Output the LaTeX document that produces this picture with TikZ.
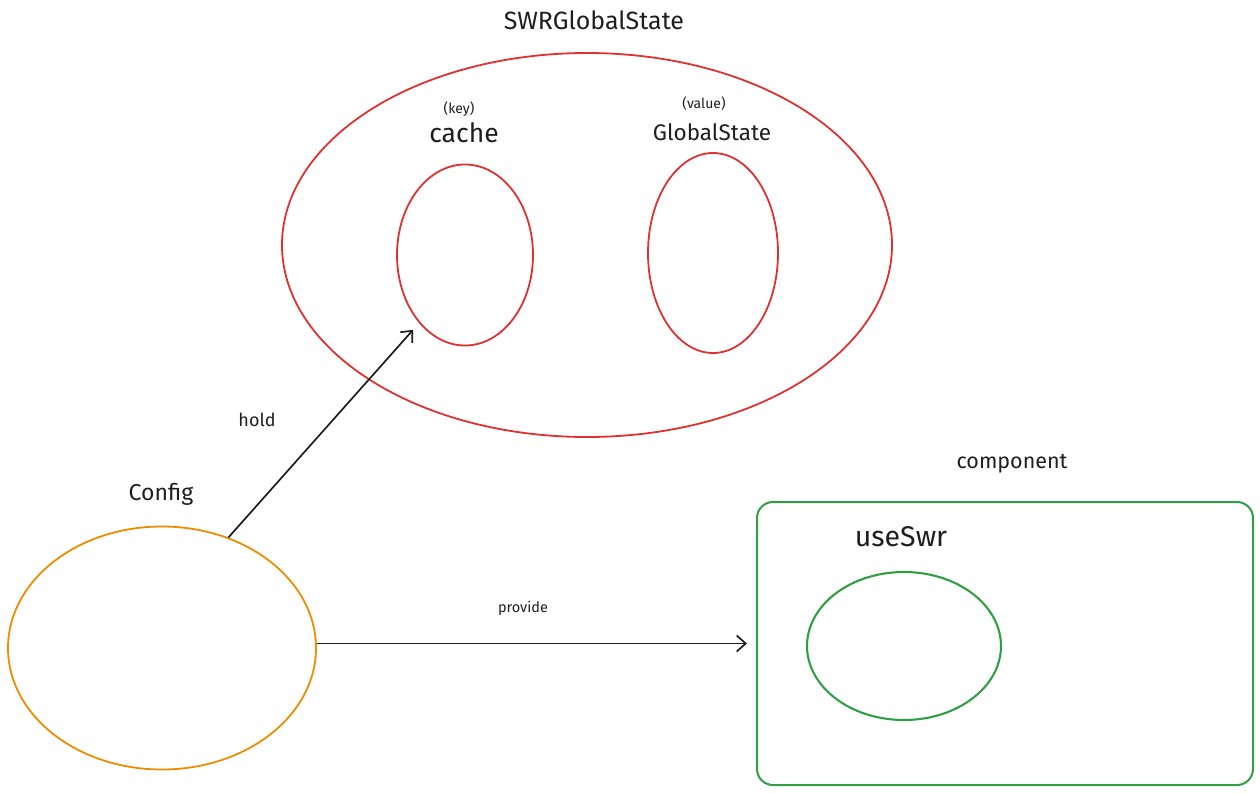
\documentclass[tikz,border=0pt]{standalone}
\usepackage{fontspec}
\setmainfont{Fira Sans}
\usetikzlibrary{shapes.geometric,arrows.meta}
\definecolor{exred}{HTML}{E03131}
\definecolor{exorange}{HTML}{F08C00}
\definecolor{exgreen}{HTML}{2F9E44}
\definecolor{extext}{HTML}{1E1E1E}
\tikzset{
  oval/.style={ellipse, draw, line width=1.8pt, inner sep=0pt},
  lbl/.style={text=extext, inner sep=0pt, anchor=center},
  arr/.style={draw=extext, line width=1.7pt, -{Straight Barb[length=9pt,width=16pt,line width=1.7pt]}},
}
\begin{document}
\begin{tikzpicture}[x=1pt,y=-1pt]
\useasboundingbox (0,0) rectangle (1260,793);
% big red ellipse
\node[oval, draw=exred, minimum width=610pt, minimum height=384pt] (swr) at (587,245) {};
\node[oval, draw=exred, minimum width=136pt, minimum height=181pt] (cache) at (465,255) {};
\node[oval, draw=exred, minimum width=130pt, minimum height=200pt] (gstate) at (713,253) {};
% config
\node[oval, draw=exorange, minimum width=308pt, minimum height=243pt] (config) at (162,648) {};
% component
\node[draw=exgreen, line width=2pt, rounded corners=16pt, minimum width=496pt, minimum height=283pt, inner sep=0pt] (comp) at (1005,643.5) {};
\node[oval, draw=exgreen, line width=2.1pt, minimum width=194pt, minimum height=148pt] (useswr) at (904,646) {};
% labels
\node[lbl, font=\fontsize{25}{29}\selectfont] (tswr) at (594,20) {SWRGlobalState};
\node[lbl, font=\fontsize{14}{16}\selectfont] (tkey) at (459,109) {(key)};
\node[lbl, font=\fontsize{26.5}{30}\selectfont] (tcache) at (464,133) {cache};
\node[lbl, font=\fontsize{22.5}{26}\selectfont] (tgs) at (712,132) {GlobalState};
\node[lbl, font=\fontsize{14}{16}\selectfont] (tvalue) at (704,104) {(value)};
\node[lbl, font=\fontsize{18}{21}\selectfont] (thold) at (257,420) {hold};
\node[lbl, font=\fontsize{23}{27}\selectfont] (tconfig) at (161,494) {Config};
\node[lbl, font=\fontsize{14.5}{17}\selectfont] (tprov) at (523,608) {provide};
\node[lbl, font=\fontsize{21.5}{25}\selectfont] (tcomp) at (1012,464) {component};
\node[lbl, font=\fontsize{28.5}{33}\selectfont] (tuse) at (901,537) {useSwr};
% connectors
\draw[arr, shorten >=9pt] (config.59) -- (cache.236);
\draw[arr, shorten >=9pt] (config.east |- comp.west) -- (comp.west);
\end{tikzpicture}
\end{document}
